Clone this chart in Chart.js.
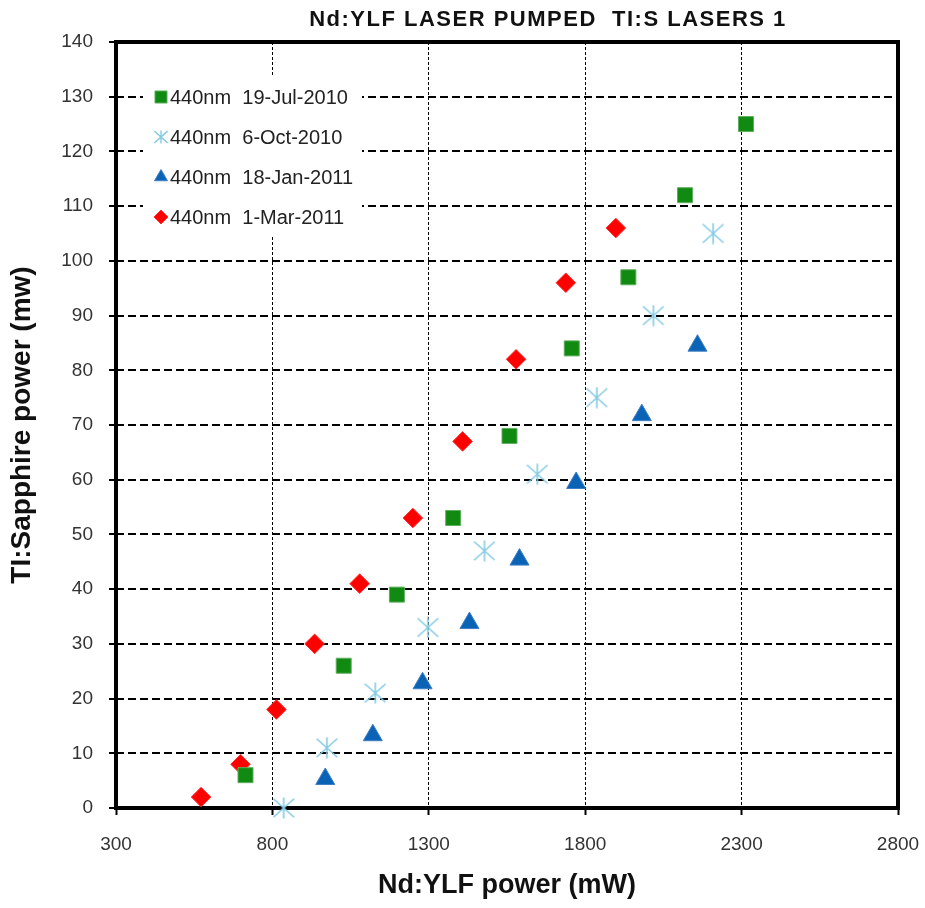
<!DOCTYPE html>
<html>
<head>
<meta charset="utf-8">
<script src="https://cdn.jsdelivr.net/npm/chart.js@4.4.1/dist/chart.umd.min.js"></script>
<style>
  body { margin: 0; background: #fff; }
  canvas { display: block; }
</style>
</head>
<body>
<canvas id="chart" width="925" height="908"></canvas>
<script>
const chartTitle = 'Nd:YLF LASER PUMPED  TI:S LASERS 1'
const xTitle = 'Nd:YLF power (mW)'
const yTitle = 'TI:Sapphire power (mw)'

const seriesLabels = ['440nm  19-Jul-2010', '440nm  6-Oct-2010', '440nm  18-Jan-2011', '440nm  1-Mar-2011']

const julX = [714, 1028, 1198, 1378, 1558, 1757, 1938, 2119, 2314]
const julY = [6, 26, 39, 53, 68, 84, 97, 112, 125]

const octX = [836, 974, 1129, 1297, 1478, 1647, 1837, 2018, 2209]
const octY = [0, 11, 21, 33, 47, 61, 75, 90, 105]

const janX = [969, 1121, 1280, 1430, 1590, 1771, 1981, 2159]
const janY = [5.3, 13.3, 22.8, 33.8, 45.4, 59.4, 71.8, 84.5]

const marX = [572, 698, 813, 935, 1079, 1249, 1408, 1579, 1738, 1898]
const marY = [2, 8, 18, 30, 41, 53, 67, 82, 96, 106]

const FONT = 'Arial, "Liberation Sans", sans-serif'

function toPoints(xs, ys) {
  return xs.map((x, i) => ({ x: x, y: ys[i] }))
}

// Excel-like six-spoke asterisk marker
function asterisk(size, color, width) {
  const c = document.createElement('canvas')
  c.width = size
  c.height = size
  const g = c.getContext('2d')
  const m = size / 2
  const h = size * 0.42
  g.strokeStyle = color
  g.lineWidth = width
  g.beginPath()
  g.moveTo(m, 0.5)
  g.lineTo(m, size - 0.5)
  g.moveTo(m - size * 0.47, m - h)
  g.lineTo(m + size * 0.47, m + h)
  g.moveTo(m - size * 0.47, m + h)
  g.lineTo(m + size * 0.47, m - h)
  g.stroke()
  return c
}

const starBig = asterisk(22, '#86cbe3', 1.6)
const starSmall = asterisk(14, '#86cbe3', 1.4)

const styles = [
  { pointStyle: 'rect', radius: 10.6, backgroundColor: '#108a10', borderColor: '#5fae5f', borderWidth: 1, legendRadius: 8.5 },
  { pointStyle: starBig, radius: 11, backgroundColor: '#86cbe3', borderColor: '#86cbe3', borderWidth: 0, legendStyle: starSmall },
  { pointStyle: 'triangle', radius: 11, backgroundColor: '#0b63b6', borderColor: '#3d7fc4', borderWidth: 1, legendRadius: 7.5 },
  { pointStyle: 'rectRot', radius: 9.8, backgroundColor: '#ff0000', borderColor: '#ff3030', borderWidth: 1, legendRadius: 7 },
]

const seriesData = [toPoints(julX, julY), toPoints(octX, octY), toPoints(janX, janY), toPoints(marX, marY)]

const frameAndLegend = {
  id: 'frameAndLegend',
  beforeDatasetsDraw(chart) {
    const { ctx, chartArea: a } = chart
    ctx.save()
    ctx.fillStyle = '#fff'
    ctx.fillRect(a.left + 27, a.top + 33, 219, 160)
    ctx.strokeStyle = '#000'
    ctx.lineWidth = 4
    ctx.strokeRect(a.left, a.top, a.right - a.left, a.bottom - a.top)

    ctx.font = '20px ' + FONT
    ctx.textBaseline = 'middle'
    ctx.textAlign = 'left'
    seriesLabels.forEach((label, i) => {
      const s = styles[i]
      const y = a.top + 55 + i * 40
      const x = a.left + 45
      ctx.fillStyle = s.backgroundColor
      ctx.strokeStyle = s.borderColor
      ctx.lineWidth = s.borderWidth
      Chart.helpers.drawPoint(ctx, {
        pointStyle: s.legendStyle || s.pointStyle,
        radius: s.legendRadius || 7,
        rotation: 0,
        borderWidth: s.borderWidth,
      }, x, y)
      ctx.fillStyle = '#222'
      ctx.fillText(label, x + 9, y + 1)
    })
    ctx.restore()
  },
  afterDraw(chart) {
    const { ctx } = chart
    ctx.save()
    ctx.font = 'bold 22px ' + FONT
    ctx.letterSpacing = '1.5px'
    ctx.fillStyle = '#111'
    ctx.textAlign = 'center'
    ctx.textBaseline = 'alphabetic'
    ctx.fillText(chartTitle, 548, 26)
    ctx.restore()
  },
}

new Chart(document.getElementById('chart'), {
  type: 'scatter',
  data: {
    datasets: seriesData.map((points, i) => ({
      label: seriesLabels[i],
      data: points,
      pointStyle: styles[i].pointStyle,
      pointRadius: styles[i].radius,
      pointHoverRadius: styles[i].radius,
      pointBackgroundColor: styles[i].backgroundColor,
      pointBorderColor: styles[i].borderColor,
      pointBorderWidth: styles[i].borderWidth,
      showLine: false,
      clip: false,
    })),
  },
  options: {
    responsive: false,
    animation: false,
    events: [],
    layout: { padding: { top: 42, right: 27, left: 0, bottom: 0 } },
    plugins: {
      legend: { display: false },
      title: { display: false },
      tooltip: { enabled: false },
    },
    scales: {
      x: {
        type: 'linear',
        min: 300,
        max: 2800,
        afterFit: (scale) => {
          scale.height = 100
          scale.paddingLeft = 0
          scale.paddingRight = 0
        },
        ticks: {
          stepSize: 500,
          color: '#333',
          padding: 18,
          font: { family: FONT, size: 19 },
          callback: (value) => String(value),
        },
        grid: {
          color: '#000',
          lineWidth: 1,
          drawTicks: true,
          tickLength: 7,
          tickColor: '#000',
          tickWidth: 2,
          tickBorderDash: [],
        },
        border: { display: false, dash: [3, 2] },
        title: {
          display: true,
          text: xTitle,
          color: '#111',
          font: { family: FONT, size: 27, weight: 'bold' },
          padding: { top: 0, bottom: 6 },
        },
      },
      y: {
        type: 'linear',
        min: 0,
        max: 140,
        afterFit: (scale) => {
          scale.width = 116
          scale.paddingTop = 0
          scale.paddingBottom = 0
        },
        ticks: {
          stepSize: 10,
          color: '#333',
          padding: 16,
          font: { family: FONT, size: 19 },
        },
        grid: {
          color: '#000',
          lineWidth: 2,
          drawTicks: true,
          tickLength: 7,
          tickColor: '#000',
          tickWidth: 2,
          tickBorderDash: [],
        },
        border: { display: false, dash: [8, 4] },
        title: {
          display: true,
          text: yTitle,
          color: '#111',
          font: { family: FONT, size: 28, weight: 'bold' },
          padding: { top: 5, bottom: 0 },
        },
      },
    },
  },
  plugins: [frameAndLegend],
})
</script>
</body>
</html>
